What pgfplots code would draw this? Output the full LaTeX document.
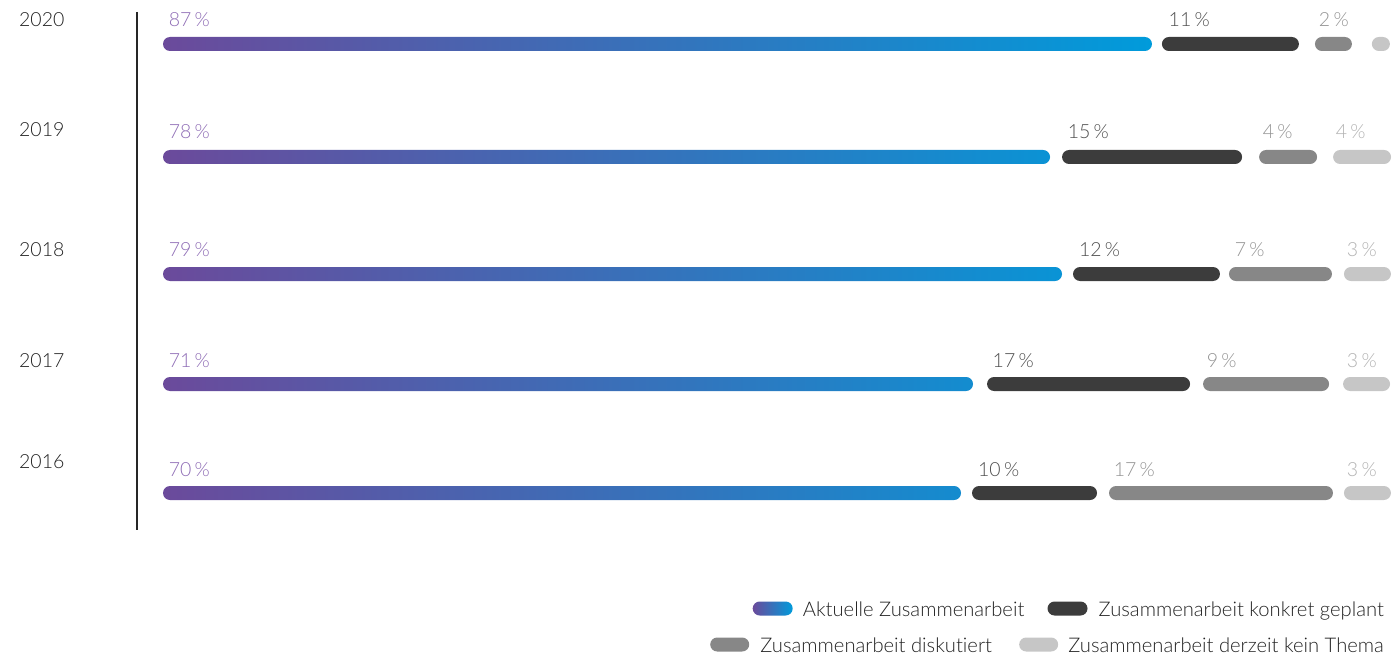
\documentclass[border=0pt]{standalone}
\usepackage{pgfplots}
\pgfplotsset{compat=1.18}
\usepackage{pgfplotstable}
\usepackage{fontspec}
\setmainfont{Lato Light}[Ligatures=NoCommon]
\usetikzlibrary{calc}
\definecolor{gA1}{HTML}{6B4A9B}
\definecolor{gA2}{HTML}{009BDB}
\definecolor{cB}{HTML}{3C3C3C}
\definecolor{cC}{HTML}{878787}
\definecolor{cD}{HTML}{C6C6C6}
\definecolor{lA}{HTML}{8E6CB5}
\definecolor{lB}{HTML}{4F4F4F}
\definecolor{lC}{HTML}{939393}
\definecolor{lD}{HTML}{B2B2B2}
\definecolor{txt}{HTML}{222222}

% drawn segment lengths on the chart scale (incl. round caps) and the gaps between them
\pgfplotstableread{
y    A     gA   B     gB   C     gC   D
-44  88.22 0.89 12.22 1.43 3.30  1.78 1.61
-157 79.13 1.07 16.06 1.52 5.17  1.43 5.17
-274 80.20 0.98 13.11 0.80 9.19  1.07 4.19
-384 72.26 1.25 18.11 1.16 11.24 1.25 4.19
-493 71.19 0.98 11.15 1.07 19.98 0.98 4.19
}\bars

\begin{document}
\fontsize{19.5}{23}\selectfont
\begin{tikzpicture}
\begin{axis}[
  scale only axis, width=1399pt, height=657pt,
  xmin=-14.541, xmax=110.259, ymin=-657, ymax=0,
  axis line style={draw=none}, xtick=\empty, ytick=\empty,
  xbar stacked, bar width=14pt,
  clip=false,
]
\addplot[draw=none, left color=gA1, right color=gA2, rounded corners=7pt] table[x=A,y=y]{\bars};
\addplot[draw=none, fill=none] table[x=gA,y=y]{\bars};
\addplot[draw=none, fill=cB, rounded corners=7pt] table[x=B,y=y]{\bars};
\addplot[draw=none, fill=none] table[x=gB,y=y]{\bars};
\addplot[draw=none, fill=cC, rounded corners=7pt] table[x=C,y=y]{\bars};
\addplot[draw=none, fill=none] table[x=gC,y=y]{\bars};
\addplot[draw=none, fill=cD, rounded corners=7pt] table[x=D,y=y]{\bars};

% axis line
\draw[color=black!85, line width=1.3pt] (axis cs:-2.32,-12) -- (axis cs:-2.32,-530);

% year labels
\node[anchor=base west, inner sep=0, text=txt] at (axis cs:-12.85,-27) {2020};
\node[anchor=base west, inner sep=0, text=txt] at (axis cs:-12.85,-137) {2019};
\node[anchor=base west, inner sep=0, text=txt] at (axis cs:-12.85,-257) {2018};
\node[anchor=base west, inner sep=0, text=txt] at (axis cs:-12.85,-367) {2017};
\node[anchor=base west, inner sep=0, text=txt] at (axis cs:-12.85,-468) {2016};

% value labels
\node[anchor=base west, inner sep=0, text=lA] at (axis cs:0.5,-27) {87\,\%};
\node[anchor=base west, inner sep=0, text=lB] at (axis cs:89.7,-27) {11\,\%};
\node[anchor=base west, inner sep=0, text=lC] at (axis cs:103.1,-27) {2\,\%};

\node[anchor=base west, inner sep=0, text=lA] at (axis cs:0.5,-139) {78\,\%};
\node[anchor=base west, inner sep=0, text=lB] at (axis cs:80.7,-139) {15\,\%};
\node[anchor=base west, inner sep=0, text=lC] at (axis cs:98.1,-139) {4\,\%};
\node[anchor=base west, inner sep=0, text=lD] at (axis cs:104.6,-139) {4\,\%};

\node[anchor=base west, inner sep=0, text=lA] at (axis cs:0.5,-257) {79\,\%};
\node[anchor=base west, inner sep=0, text=lB] at (axis cs:81.7,-257) {12\,\%};
\node[anchor=base west, inner sep=0, text=lC] at (axis cs:95.6,-257) {7\,\%};
\node[anchor=base west, inner sep=0, text=lD] at (axis cs:105.6,-257) {3\,\%};

\node[anchor=base west, inner sep=0, text=lA] at (axis cs:0.5,-367) {71\,\%};
\node[anchor=base west, inner sep=0, text=lB] at (axis cs:74.0,-367) {17\,\%};
\node[anchor=base west, inner sep=0, text=lC] at (axis cs:93.1,-367) {9\,\%};
\node[anchor=base west, inner sep=0, text=lD] at (axis cs:105.6,-367) {3\,\%};

\node[anchor=base west, inner sep=0, text=lA] at (axis cs:0.5,-476) {70\,\%};
\node[anchor=base west, inner sep=0, text=lB] at (axis cs:72.7,-476) {10\,\%};
\node[anchor=base west, inner sep=0, text=lC] at (axis cs:84.8,-476) {17\,\%};
\node[anchor=base west, inner sep=0, text=lD] at (axis cs:105.6,-476) {3\,\%};

\coordinate (legR1) at (axis cs:108.92,-616);
\coordinate (legR2) at (axis cs:108.92,-652);
\end{axis}

% legend
\begingroup
\fontsize{20.2}{24}\selectfont
\node[anchor=base east, inner sep=0, text=txt] (l2) at (legR1) {Zusammenarbeit konkret geplant};
\fill[cB, rounded corners=7pt] ($(l2.base west)+(-51pt,0.5pt)$) rectangle ++(40pt,14pt);
\node[anchor=base east, inner sep=0, text=txt] (l1) at ($(l2.base west)+(-74pt,0pt)$) {Aktuelle Zusammenarbeit};
\shade[left color=gA1, right color=gA2, rounded corners=7pt] ($(l1.base west)+(-50pt,0.5pt)$) rectangle ++(40pt,14pt);

\node[anchor=base east, inner sep=0, text=txt] (l4) at (legR2) {Zusammenarbeit derzeit kein Thema};
\fill[cD, rounded corners=7pt] ($(l4.base west)+(-49pt,0.5pt)$) rectangle ++(39pt,14pt);
\node[anchor=base east, inner sep=0, text=txt] (l3) at ($(l4.base west)+(-76pt,0pt)$) {Zusammenarbeit diskutiert};
\fill[cC, rounded corners=7pt] ($(l3.base west)+(-50pt,0.5pt)$) rectangle ++(39pt,14pt);
\endgroup
\end{tikzpicture}
\end{document}
